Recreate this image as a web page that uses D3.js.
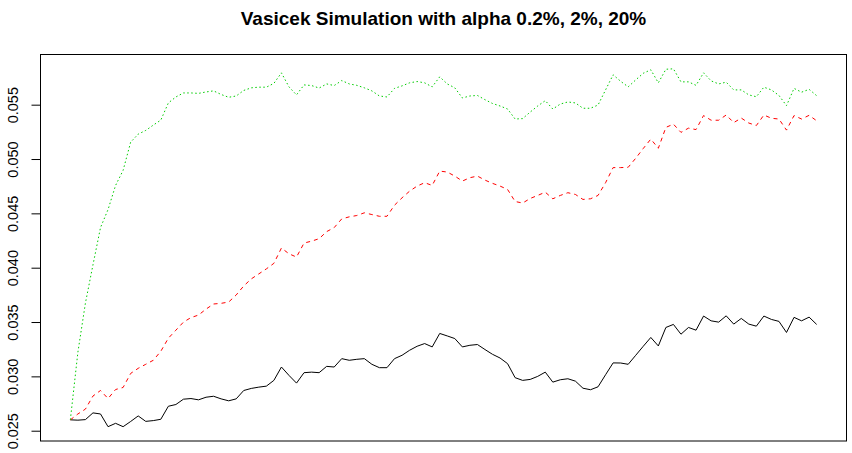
<!DOCTYPE html>
<html>
<head>
<meta charset="utf-8">
<script src="https://cdn.jsdelivr.net/npm/d3@7"></script>
<style>
  body { margin: 0; background: #fff; }
  svg { display: block; }
  .title { font-family: "Liberation Sans", Arial, sans-serif; font-weight: bold; font-size: 19px; }
  .tick text { font-family: "Liberation Sans", Arial, sans-serif; font-size: 14.5px; }
</style>
</head>
<body>
<script>
// simulated short rates, one value per step (R index 1..100)
var alpha02 = [0.02600,0.02597,0.02602,0.02664,0.02654,0.02537,0.02568,0.02537,0.02585,0.02636,
  0.02586,0.02593,0.02605,0.02725,0.02741,0.02790,0.02796,0.02784,0.02808,0.02817,
  0.02793,0.02775,0.02793,0.02870,0.02889,0.02901,0.02910,0.02963,0.03086,0.03009,
  0.02938,0.03034,0.03039,0.03034,0.03092,0.03086,0.03163,0.03148,0.03157,0.03163,
  0.03111,0.03080,0.03080,0.03163,0.03194,0.03240,0.03277,0.03302,0.03271,0.03395,
  0.03372,0.03348,0.03271,0.03286,0.03293,0.03247,0.03203,0.03169,0.03117,0.02988,
  0.02963,0.02972,0.03000,0.03039,0.02947,0.02969,0.02978,0.02956,0.02891,0.02877,
  0.02904,0.03015,0.03124,0.03123,0.03111,0.03194,0.03277,0.03358,0.03280,0.03450,
  0.03478,0.03388,0.03450,0.03425,0.03555,0.03511,0.03499,0.03557,0.03481,0.03533,
  0.03481,0.03462,0.03555,0.03524,0.03506,0.03404,0.03543,0.03511,0.03545,0.03478];

var alpha2 = [0.02600,0.02654,0.02699,0.02819,0.02870,0.02796,0.02879,0.02898,0.03027,0.03074,
  0.03111,0.03148,0.03231,0.03351,0.03425,0.03499,0.03541,0.03564,0.03619,0.03666,
  0.03672,0.03684,0.03749,0.03832,0.03897,0.03943,0.03989,0.04040,0.04181,0.04128,
  0.04098,0.04227,0.04244,0.04267,0.04332,0.04369,0.04449,0.04468,0.04480,0.04505,
  0.04489,0.04473,0.04473,0.04575,0.04643,0.04704,0.04751,0.04782,0.04757,0.04889,
  0.04880,0.04843,0.04797,0.04828,0.04843,0.04806,0.04776,0.04751,0.04720,0.04609,
  0.04595,0.04637,0.04665,0.04695,0.04634,0.04665,0.04690,0.04674,0.04628,0.04634,
  0.04665,0.04782,0.04921,0.04921,0.04924,0.05007,0.05097,0.05183,0.05099,0.05291,
  0.05321,0.05245,0.05284,0.05271,0.05400,0.05357,0.05357,0.05405,0.05335,0.05377,
  0.05331,0.05308,0.05405,0.05375,0.05368,0.05266,0.05400,0.05368,0.05402,0.05352];

var alpha20 = [0.02600,0.03222,0.03675,0.04026,0.04369,0.04535,0.04757,0.04896,0.05155,0.05229,
  0.05263,0.05312,0.05358,0.05516,0.05571,0.05608,0.05608,0.05604,0.05617,0.05627,
  0.05594,0.05568,0.05580,0.05631,0.05655,0.05661,0.05661,0.05696,0.05793,0.05664,
  0.05590,0.05682,0.05676,0.05653,0.05691,0.05676,0.05722,0.05691,0.05678,0.05655,
  0.05627,0.05580,0.05571,0.05650,0.05673,0.05701,0.05713,0.05701,0.05664,0.05756,
  0.05691,0.05655,0.05562,0.05580,0.05585,0.05546,0.05511,0.05488,0.05460,0.05368,
  0.05372,0.05432,0.05488,0.05537,0.05460,0.05506,0.05525,0.05516,0.05467,0.05467,
  0.05497,0.05636,0.05775,0.05715,0.05664,0.05728,0.05789,0.05821,0.05701,0.05826,
  0.05830,0.05710,0.05710,0.05678,0.05793,0.05719,0.05691,0.05707,0.05636,0.05636,
  0.05590,0.05573,0.05661,0.05636,0.05585,0.05491,0.05650,0.05615,0.05641,0.05583];

var yTicks = [0.025, 0.030, 0.035, 0.040, 0.045, 0.050, 0.055];
var titleText = "Vasicek Simulation with alpha 0.2%, 2%, 20%";

var width = 852, height = 453;
var box = {left: 40.5, right: 846.5, top: 54.5, bottom: 441};

var svg = d3.select("body").append("svg")
    .attr("width", width)
    .attr("height", height);

var n = alpha02.length;
// R style axis extension of 4% on both sides
var xPad = (n - 1) * 0.04;
var x = d3.scaleLinear()
    .domain([1 - xPad, n + xPad])
    .range([box.left, box.right]);

var allVals = alpha02.concat(alpha2, alpha20);
var yMin = d3.min(allVals), yMax = d3.max(allVals);
var yPad = (yMax - yMin) * 0.04;
var y = d3.scaleLinear()
    .domain([yMin - yPad, yMax + yPad])
    .range([box.bottom, box.top]);

var line = d3.line()
    .x(function(d, i){ return x(i + 1); })
    .y(function(d){ return y(d); });

//series: black solid, red dashed, green dotted
var series = [
  {vals: alpha02, color: "#000000", dash: null},
  {vals: alpha2, color: "#ff0000", dash: "4,4"},
  {vals: alpha20, color: "#00cd00", dash: "1.5,2.5"}
];

svg.selectAll(".series")
    .data(series)
    .enter()
    .append("path")
    .attr("class", "series")
    .attr("d", function(d){ return line(d.vals); })
    .attr("fill", "none")
    .attr("stroke", function(d){ return d.color; })
    .attr("stroke-width", 1)
    .attr("stroke-dasharray", function(d){ return d.dash; });

//y axis with rotated labels
var yAxis = svg.append("g")
    .attr("transform", "translate(" + box.left + ",0)")
    .call(d3.axisLeft(y)
      .tickValues(yTicks)
      .tickFormat(d3.format(".3f"))
      .tickSize(9)
      .tickSizeOuter(0));

yAxis.select(".domain")
    .attr("d", "M0," + y(yTicks[0]) + "V" + y(yTicks[yTicks.length - 1]));

yAxis.selectAll(".tick text")
    .attr("transform", "rotate(-90)")
    .attr("x", 0)
    .attr("y", -23)
    .attr("dy", null)
    .attr("text-anchor", "middle")
    .attr("fill", "#000");

//plot frame
svg.append("rect")
    .attr("x", box.left)
    .attr("y", box.top)
    .attr("width", box.right - box.left)
    .attr("height", box.bottom - box.top)
    .attr("fill", "none")
    .attr("stroke", "#000")
    .attr("stroke-width", 1);

svg.append("text")
    .attr("class", "title")
    .attr("x", (box.left + box.right) / 2)
    .attr("y", 25)
    .attr("text-anchor", "middle")
    .text(titleText);
</script>
</body>
</html>
